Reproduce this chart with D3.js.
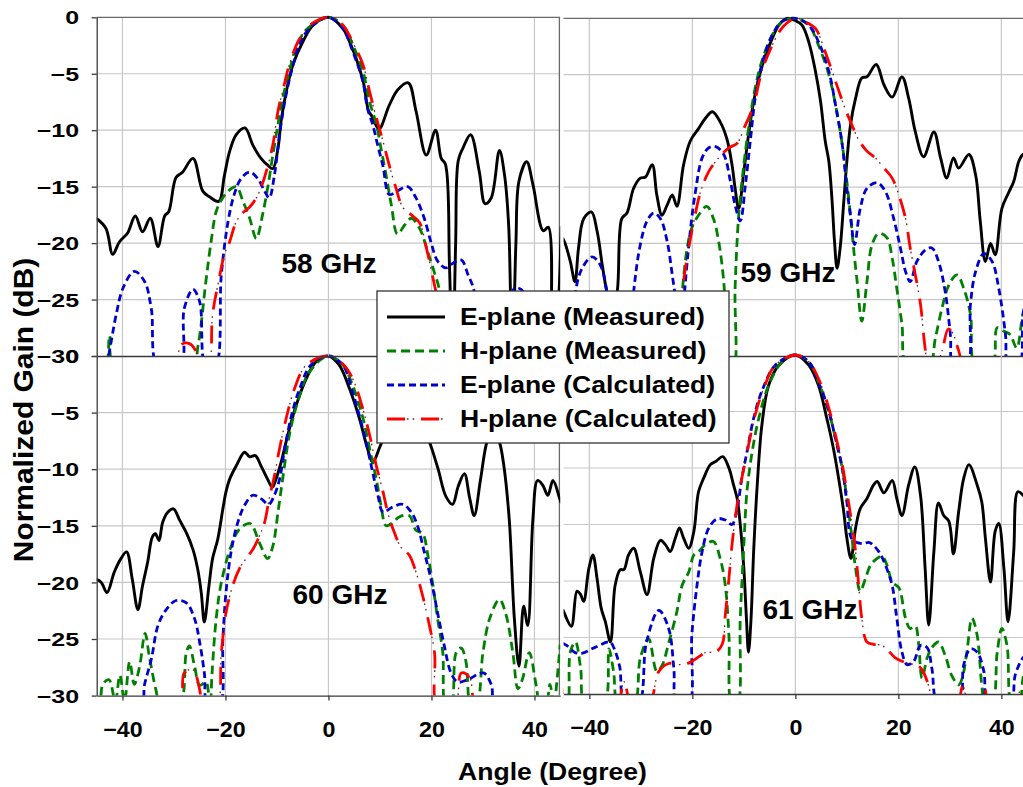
<!DOCTYPE html>
<html>
<head>
<meta charset="utf-8">
<script src="https://cdn.jsdelivr.net/npm/d3@7"></script>
<style>
  body { margin: 0; background: #fff; }
  svg { display: block; }
  text { font-family: "Liberation Sans", Arial, sans-serif; font-weight: bold; fill: #000; }
</style>
</head>
<body>
<svg id="chart" width="1023" height="787"></svg>
<script>
// ejes
const angleTicks = [-40, -20, 0, 20, 40];
const gainTicks = [0, -5, -10, -15, -20, -25, -30];
const seriesNames = ['E-plane (Measured)', 'H-plane (Measured)', 'E-plane (Calculated)', 'H-plane (Calculated)'];
const panelLabels = ['58 GHz', '59 GHz', '60 GHz', '61 GHz'];

// 58 GHz  [angle, dB]
const eMeas58 = [[-45.1,-17.8],[-43.2,-18.7],[-41.9,-21.0],[-40.6,-19.9],[-39.0,-19.1],[-37.5,-17.6],[-36.1,-19.0],[-34.6,-17.8],[-33.1,-20.3],[-31.8,-17.6],[-31.0,-17.2],[-29.6,-14.2],[-28.3,-13.7],[-26.3,-12.5],[-24.4,-15.4],[-23.1,-15.9],[-21.3,-16.3],[-20.2,-14.0],[-19.2,-11.9],[-17.9,-10.4],[-16.2,-9.8],[-14.7,-11.3],[-13.1,-12.5],[-11.8,-13.1],[-10.8,-13.4],[-9.8,-11.6],[-9.2,-9.2],[-8.2,-6.6],[-6.9,-4.2],[-5.0,-2.2],[-3.0,-0.7],[0,0],[2.8,-1.0],[4.5,-2.6],[5.5,-3.8],[6.8,-5.8],[7.8,-8.3],[8.5,-8.8],[9.8,-9.9],[11.8,-7.8],[13.5,-6.4],[15.5,-5.8],[17.0,-8.3],[19.0,-12.2],[20.8,-10.0],[21.9,-12.5],[22.7,-13.0],[23.5,-22],[24.1,-31],[24.7,-20],[25.2,-12.7],[26.1,-11.6],[27.6,-10.4],[29.3,-13.7],[30.4,-16.5],[31.6,-16.0],[33.2,-11.8],[34.2,-14.0],[35.0,-18.5],[35.7,-31],[36.4,-20],[37.0,-14.5],[38.5,-12.8],[39.7,-14.8],[41.7,-18.9],[42.7,-18.6],[43.3,-31],[44.3,-28],[45.2,-18.5]];
const hMeas58 = [[-45,-31],[-43.3,-31],[-42.5,-28.2],[-41.5,-31],[-26.5,-31],[-25.3,-29],[-23.8,-23.4],[-22.8,-19.9],[-21.8,-17.2],[-20.8,-16.2],[-19.5,-15.4],[-17.9,-15.0],[-16.6,-16.3],[-15.3,-17.8],[-14.0,-19.6],[-12.8,-17.5],[-11.8,-15.1],[-10.8,-12.2],[-9.8,-9.5],[-8.9,-7.2],[-7.6,-4.8],[-6.3,-2.7],[-4.3,-1.1],[0,0],[2.8,-0.7],[4.7,-2.4],[6.7,-4.8],[8.0,-7.5],[9.3,-9.5],[10.2,-11.6],[11.2,-14.0],[12.2,-16.6],[13.4,-19.2],[14.8,-18.4],[16.1,-17.8],[17.7,-18.7],[19.3,-20.8],[20.5,-22.5],[21.6,-24.3],[22.5,-31],[45,-31]];
const eCalc58 = [[-45,-31],[-43.2,-31],[-42.5,-29.5],[-41.2,-26.3],[-39.9,-24.0],[-37.7,-22.5],[-35.7,-23.4],[-34.4,-25.8],[-33.1,-31],[-28.8,-31],[-28.0,-25.8],[-26.3,-24.1],[-25.0,-25.2],[-23.8,-31],[-22.0,-31],[-20.8,-22.8],[-19.5,-18.1],[-18.3,-15.7],[-17.0,-14.3],[-15.3,-13.7],[-13.7,-14.3],[-12.4,-15.4],[-11.5,-16.0],[-10.5,-14.0],[-9.5,-10.4],[-8.5,-7.5],[-7.2,-4.8],[-5.6,-2.4],[-3.7,-1.0],[0,0],[2.8,-1.0],[4.7,-3.0],[6.7,-5.7],[7.6,-8.1],[8.6,-9.5],[9.6,-11.4],[10.6,-13.2],[11.8,-15.7],[13.3,-15.4],[15.4,-15.0],[17.0,-16.0],[18.6,-17.8],[19.9,-19.9],[21.2,-21.6],[22.8,-22.2],[24.1,-21.8],[25.8,-21.5],[27.1,-22.8],[28.3,-24.3],[29.0,-31],[35.3,-31],[36.1,-24.0],[37.4,-24.1],[38.4,-24.9],[39.0,-31],[45,-31]];
const hCalc58 = [[-45,-31],[-30.2,-31],[-28.6,-29.0],[-27.0,-28.9],[-25.7,-29.6],[-25.0,-31],[-23.4,-31],[-22.5,-26.3],[-21.2,-23.1],[-20.2,-21.0],[-19.2,-19.9],[-17.9,-18.1],[-16.6,-17.3],[-15.3,-16.8],[-14.0,-16.0],[-13.1,-15.1],[-12.1,-13.7],[-10.8,-11.3],[-9.8,-8.3],[-8.9,-6.6],[-7.6,-4.2],[-5.6,-1.9],[-3.0,-0.5],[0,0],[2.8,-0.7],[4.7,-2.2],[6.7,-4.2],[8.0,-6.6],[9.3,-8.9],[10.6,-11.0],[11.8,-13.1],[13.1,-15.1],[14.4,-16.8],[16.1,-17.5],[17.7,-18.2],[19.0,-20.4],[20.3,-23.1],[21.2,-25.2],[22.2,-31],[45,-31]];

// 59 GHz
const eMeas59 = [[-45.2,-19.5],[-44.7,-20.0],[-43.7,-21.6],[-42.8,-23.4],[-42.1,-20.4],[-41.1,-17.8],[-39.6,-17.2],[-38.5,-18.9],[-37.5,-21.9],[-36.6,-24.3],[-35.6,-26],[-34.6,-24.3],[-33.7,-17.8],[-32.7,-17.3],[-31.4,-15.1],[-30.1,-14.2],[-29.1,-14.1],[-27.8,-13.0],[-26.9,-15.7],[-25.9,-17.5],[-24.9,-16.6],[-23.9,-15.7],[-23.0,-16.7],[-21.7,-13.0],[-20.4,-10.9],[-18.8,-9.8],[-17.5,-8.9],[-16.1,-8.3],[-14.6,-9.2],[-13.3,-10.7],[-12.3,-13.0],[-11.7,-15.1],[-11.0,-16.9],[-10.0,-13.6],[-9.1,-10.4],[-8.1,-7.4],[-7.1,-5.3],[-5.8,-3.3],[-4.5,-1.8],[-3.2,-0.6],[-1.6,0],[0,-0.2],[1.3,-0.6],[2.6,-2.1],[3.9,-4.7],[4.9,-7.4],[5.8,-10.9],[6.5,-12.7],[7.1,-16.0],[7.6,-19.8],[8.1,-22.2],[8.7,-20.4],[9.4,-16.3],[10.0,-12.7],[10.7,-9.5],[11.7,-7.1],[12.9,-5.3],[13.9,-5.2],[15.7,-4.1],[17.2,-5.9],[18.8,-7.0],[20.7,-5.2],[22.0,-7.1],[23.3,-10.1],[24.9,-12.3],[26.9,-10.1],[28.2,-12.4],[29.4,-14.2],[30.7,-12.4],[31.7,-13.3],[33.7,-12.1],[35.0,-13.9],[35.9,-18.0],[36.9,-21.6],[37.9,-20.0],[38.8,-21.0],[40.1,-16.9],[41.4,-15.5],[42.4,-14.5],[43.4,-12.7],[44.2,-12.1],[45.2,-12.0]];
const hMeas59 = [[-45,-31],[-23,-31],[-22.0,-24.5],[-21.0,-20.4],[-20.1,-18.6],[-18.8,-17.5],[-17.2,-16.7],[-15.9,-17.8],[-14.9,-19.8],[-13.9,-23.4],[-12.9,-31],[-12.0,-31],[-11.7,-24.0],[-11.0,-17.5],[-10.0,-13.0],[-9.1,-9.8],[-7.8,-6.2],[-6.5,-3.8],[-4.5,-1.5],[-2.6,-0.3],[0,0],[2.6,-0.6],[4.5,-2.4],[6.5,-5.0],[7.8,-7.7],[9.1,-11.2],[10.0,-14.5],[10.7,-17.5],[11.3,-20.4],[12.0,-23.4],[12.9,-26.9],[13.9,-23.4],[14.9,-20.1],[16.2,-19.1],[17.8,-19.5],[18.8,-21.3],[19.7,-24.0],[20.7,-27.2],[21.7,-31],[25.9,-31],[27.2,-28.4],[28.5,-25.7],[29.8,-23.7],[31.4,-22.8],[32.7,-24.0],[34.0,-26.3],[35.0,-31],[38.2,-31],[39.2,-27.5],[40.5,-27.8],[41.7,-28.1],[43.0,-29.3],[44.2,-26.3],[45,-25.5]];
const eCalc59 = [[-45,-31],[-43.8,-31],[-42.7,-24.3],[-41.4,-22.2],[-39.5,-21.2],[-37.9,-21.9],[-36.6,-24.3],[-35.5,-31],[-32.5,-31],[-31.4,-24.3],[-30.1,-20.1],[-28.8,-18.0],[-27.5,-17.3],[-26.2,-17.8],[-24.9,-19.8],[-23.9,-22.8],[-23.0,-26],[-22.4,-31],[-21.8,-26],[-20.4,-18.9],[-19.4,-15.4],[-18.1,-12.4],[-16.8,-11.5],[-15.5,-11.4],[-13.9,-12.1],[-12.6,-14.5],[-11.7,-16.6],[-10.7,-18.0],[-9.7,-14.8],[-8.7,-10.7],[-7.8,-7.1],[-6.5,-4.1],[-4.5,-1.5],[-2.6,-0.3],[0,0],[2.6,-0.6],[4.5,-2.1],[6.5,-4.7],[7.8,-7.7],[9.1,-11.2],[10.0,-15.1],[10.7,-17.5],[11.5,-20.1],[12.6,-16.9],[13.9,-15.1],[15.9,-14.6],[17.5,-15.4],[19.1,-17.8],[20.4,-20.4],[21.4,-22.5],[22.3,-23.4],[23.6,-21.6],[25.2,-20.6],[26.5,-20.4],[27.8,-21.6],[29.1,-24.3],[30.1,-28.1],[30.7,-31],[33.3,-31],[34.0,-25.4],[35.0,-22.5],[36.6,-20.9],[38.2,-21.6],[39.5,-24.0],[40.8,-28.1],[41.4,-31],[43.4,-31],[44.2,-26.3],[45,-24.5]];
const hCalc59 = [[-45,-31],[-23.0,-31],[-21.7,-23.4],[-20.7,-20.4],[-19.7,-18.0],[-18.4,-15.4],[-16.8,-13.6],[-14.9,-12.4],[-12.9,-11.5],[-11.3,-11.1],[-10.0,-9.8],[-8.1,-7.7],[-6.5,-4.7],[-4.5,-2.4],[-2.3,-0.7],[0,0],[1.9,-0.3],[3.9,-0.9],[5.8,-3.0],[7.8,-5.6],[9.4,-7.7],[11.0,-9.5],[12.3,-10.8],[13.9,-11.8],[15.5,-12.4],[17.2,-13.3],[18.8,-14.2],[20.1,-15.7],[21.4,-17.8],[22.3,-20.4],[23.3,-22.8],[24.3,-25.4],[25.2,-29.3],[25.9,-31],[27.2,-31],[28.5,-29.5],[29.7,-27.6],[30.6,-28.0],[31.7,-29.5],[33.0,-31],[45,-31]];

// 60 GHz
const eMeas60 = [[-45.1,-19.7],[-44.1,-20.0],[-43.0,-20.9],[-41.6,-19.1],[-40.3,-17.9],[-39.2,-17.3],[-38.1,-19.7],[-37.0,-22.4],[-36.1,-20.3],[-35.1,-18.2],[-34.2,-16.0],[-33.6,-15.7],[-32.9,-16.3],[-32.2,-14.7],[-31.2,-13.8],[-30.1,-13.5],[-28.9,-14.5],[-27.6,-15.6],[-26.3,-17.1],[-25.4,-18.8],[-24.7,-20.9],[-24.1,-23.5],[-23.2,-20.3],[-22.5,-17.9],[-21.5,-16.2],[-20.5,-13.5],[-19.9,-12.0],[-19.2,-10.9],[-17.9,-9.7],[-16.3,-8.5],[-15.3,-8.9],[-14.2,-8.8],[-13.1,-9.7],[-11.8,-10.9],[-10.9,-11.6],[-10.2,-10.9],[-9.2,-9.4],[-7.9,-7.0],[-6.3,-4.4],[-4.3,-2.0],[-2.4,-0.5],[0,0],[2.1,-0.8],[4.1,-2.9],[6.0,-5.5],[7.6,-8.2],[8.6,-9.4],[10,-8],[12,-6],[15,-5],[18,-6],[19.7,-7.7],[21.3,-10],[22.8,-12.4],[24.1,-13.1],[25.2,-11.5],[26.4,-10.4],[27.4,-12.5],[28.3,-14.1],[29.5,-11],[30.6,-7.9],[31.8,-6.2],[33.2,-7.6],[34.0,-9.5],[35.1,-14.4],[36.1,-23.2],[37.0,-27.4],[37.9,-22.1],[38.7,-23.8],[39.7,-14.4],[40.6,-11.0],[41.6,-11.4],[42.6,-12.3],[43.6,-11.0],[44.9,-12.6],[45.2,-13]];
const hMeas60 = [[-45,-31],[-44.5,-31],[-43.8,-29.0],[-42.6,-28.6],[-41.4,-30.5],[-40.5,-28.2],[-39.6,-30.5],[-38.6,-27.0],[-37.7,-29.0],[-36.7,-27.5],[-35.6,-24.5],[-34.8,-26.5],[-33.5,-29.5],[-32.5,-31],[-29.0,-31],[-27.6,-26.2],[-27.0,-25.6],[-26.0,-27.4],[-25.0,-29.1],[-23.8,-28.8],[-23.0,-31],[-22.6,-28],[-21.8,-23.2],[-20.8,-20.0],[-18.9,-16.8],[-17.3,-15.3],[-15.2,-14.8],[-13.4,-16.5],[-11.8,-17.9],[-10.8,-16.8],[-9.8,-13.8],[-8.9,-10.9],[-7.6,-7.0],[-6.0,-4.1],[-3.7,-1.4],[0,0],[2.8,-0.8],[4.7,-2.6],[6.7,-5.5],[8.0,-8.2],[9.3,-10.9],[10.2,-13.2],[11.2,-15.0],[12.5,-14.7],[13.8,-14.2],[15.7,-14.1],[17.0,-15.4],[18.3,-15.7],[19.3,-17.6],[20.3,-20.3],[21.2,-23.2],[22.2,-26.2],[22.8,-31],[23.8,-31],[24.8,-26.2],[25.8,-25.8],[26.7,-27.0],[27.7,-31],[28.7,-31],[30.0,-26.2],[31.3,-23.2],[33.2,-21.5],[34.5,-22.9],[35.8,-26.2],[36.8,-29.4],[37.7,-28.5],[39.0,-26.2],[40.3,-29.0],[41.2,-31],[42.2,-31],[43.0,-29],[43.8,-31],[44.3,-29],[45,-25.5]];
const eCalc60 = [[-45,-31],[-36.5,-31],[-35.7,-29],[-34.4,-26.8],[-33.1,-23.8],[-31.5,-22.4],[-29.6,-21.6],[-27.6,-21.8],[-26.0,-23.2],[-25.0,-25.3],[-24.1,-28.0],[-23.4,-31],[-21.2,-31],[-20.5,-25.0],[-19.9,-20.9],[-18.9,-17.3],[-17.6,-14.7],[-16.3,-13.2],[-14.7,-12.3],[-13.1,-12.6],[-11.6,-13.1],[-10.5,-12.3],[-9.5,-10.9],[-8.5,-8.2],[-7.2,-5.3],[-5.6,-2.9],[-3.4,-0.8],[0,0],[2.8,-0.8],[4.7,-3.2],[6.3,-5.8],[7.6,-8.2],[8.6,-10.3],[9.6,-12.3],[10.6,-13.8],[12.2,-13.4],[14.4,-13.1],[16.1,-13.8],[17.3,-15.0],[18.6,-17.3],[19.9,-19.7],[21.2,-22.7],[22.5,-25.6],[23.8,-28.0],[25.1,-28.8],[27.0,-28.6],[30.1,-28.0],[31.6,-29.0],[32.6,-31],[45,-31]];
const hCalc60 = [[-45,-31],[-29.2,-31],[-28.0,-28.0],[-26.3,-27.7],[-25.0,-29.5],[-24.4,-31],[-21.8,-31],[-20.8,-26.2],[-19.9,-22.7],[-18.6,-20.3],[-17.3,-18.8],[-16.0,-17.9],[-14.7,-17.1],[-13.4,-15.9],[-12.4,-14.7],[-11.5,-12.6],[-10.5,-10.6],[-9.5,-8.2],[-8.2,-5.5],[-6.6,-2.9],[-4.3,-0.8],[0,0],[2.8,-0.7],[4.7,-2.0],[6.7,-4.7],[8.0,-7.0],[9.3,-9.7],[10.6,-12.0],[11.5,-13.8],[12.8,-15.6],[14.1,-16.9],[15.7,-17.6],[17.0,-19.1],[18.3,-21.2],[19.6,-23.8],[20.6,-26.2],[21.2,-31],[24.5,-31],[25.8,-28.0],[27.4,-28.4],[29.0,-31],[45,-31]];

// 61 GHz
const eMeas61 = [[-45.2,-22.5],[-45.0,-22.7],[-43.5,-24.0],[-42.4,-20.9],[-41.7,-21.2],[-41.1,-21.8],[-40.1,-18.9],[-39.3,-17.7],[-38.5,-19.8],[-37.7,-22.4],[-36.9,-23.6],[-35.9,-25.4],[-35.0,-20.4],[-34.0,-19.0],[-33.3,-19.0],[-32.4,-17.7],[-31.4,-17.1],[-30.1,-19.2],[-28.8,-21.2],[-27.5,-18.0],[-26.2,-16.4],[-25.2,-16.8],[-24.3,-17.4],[-23.3,-16.2],[-22.5,-15.3],[-21.7,-16.2],[-20.7,-17.1],[-19.7,-15.6],[-18.8,-12.1],[-17.8,-10.9],[-16.5,-9.7],[-15.4,-9.4],[-14.1,-9.0],[-12.9,-10.0],[-12.0,-11.5],[-11.3,-12.7],[-10.7,-15.0],[-10.0,-18.9],[-9.5,-23.3],[-9.1,-26.3],[-8.6,-23.3],[-8.1,-17.4],[-7.4,-11.5],[-6.5,-6.2],[-5.2,-2.7],[-3.2,-0.9],[0,0],[2.6,-0.9],[4.5,-2.7],[6.1,-5.6],[7.4,-8.3],[8.4,-10.9],[9.4,-13.9],[10.0,-16.2],[10.8,-18.0],[11.7,-15.3],[12.6,-13.6],[13.9,-12.7],[15.2,-11.5],[15.9,-11.2],[17.2,-12.2],[18.8,-11.1],[19.7,-12.7],[20.7,-14.2],[22.0,-11.5],[23.2,-9.9],[24.3,-12.4],[25.2,-18.9],[25.9,-23.9],[26.9,-17.4],[27.8,-13.1],[28.8,-14.2],[29.8,-14.7],[30.7,-17.6],[31.7,-13.9],[32.7,-10.9],[33.7,-9.7],[35.3,-11.5],[36.2,-13.0],[36.9,-16.2],[37.9,-20.1],[38.8,-15.6],[39.5,-14.9],[40.5,-18.9],[41.3,-23.6],[42.4,-17.4],[43.2,-12.1],[44.2,-12.4],[45.2,-13]];
const hMeas61 = [[-45,-31],[-44.3,-31],[-43.7,-26.3],[-42.7,-25.4],[-41.7,-27.7],[-40.8,-31],[-37.2,-31],[-36.2,-26.0],[-35.3,-28.0],[-34.3,-31],[-31.4,-31],[-30.1,-26.8],[-28.5,-25.1],[-26.9,-28.0],[-25.9,-27.5],[-24.6,-25.5],[-23.0,-22.7],[-22.0,-20.4],[-20.7,-19.2],[-19.7,-17.7],[-18.8,-17.4],[-17.5,-16.8],[-15.9,-16.5],[-14.6,-18.0],[-13.6,-20.4],[-12.9,-24.8],[-12.3,-31],[-11.3,-31],[-10.7,-23.3],[-10.0,-16.8],[-9.4,-12.1],[-8.4,-8.6],[-7.1,-5.6],[-5.2,-2.7],[-2.6,-0.6],[0,0],[2.6,-0.6],[4.5,-2.4],[6.5,-5.0],[7.8,-7.4],[9.1,-10.0],[10.0,-12.7],[11.0,-16.2],[11.7,-18.9],[12.6,-20.9],[13.6,-19.8],[14.6,-18.6],[15.9,-18.0],[16.8,-17.8],[17.8,-18.6],[18.8,-20.1],[20.1,-20.6],[21.4,-23.3],[22.3,-24.2],[23.3,-24.0],[23.9,-25.4],[24.6,-28.6],[25.6,-26.8],[26.5,-25.9],[27.8,-25.4],[29.1,-26.6],[30.4,-28.4],[31.7,-29.2],[32.4,-28.6],[33.3,-26.3],[34.3,-23.3],[35.3,-24.8],[36.2,-29.2],[36.9,-31],[38.2,-31],[39.2,-26.3],[40.1,-24.2],[41.1,-25.7],[42.1,-31],[43.4,-31],[44.2,-28.6],[45,-27]];
const eCalc61 = [[-45.2,-25.5],[-44.4,-25.7],[-42.9,-26.3],[-41.5,-26.4],[-39.0,-25.9],[-36.0,-25.4],[-35.0,-26.2],[-34.1,-27.6],[-33.1,-31],[-30.5,-31],[-28.9,-25.4],[-26.5,-22.6],[-24.6,-24.2],[-23.6,-27.7],[-23.0,-31],[-20.7,-31],[-20.1,-24.8],[-19.1,-20.4],[-18.1,-17.4],[-16.8,-15.3],[-15.2,-14.5],[-13.6,-14.6],[-12.3,-15.0],[-11.3,-13.6],[-10.4,-10.9],[-9.4,-8.6],[-8.1,-5.6],[-6.5,-3.2],[-3.9,-0.9],[0,0],[2.6,-0.6],[4.5,-2.4],[6.5,-5.0],[7.8,-7.4],[9.1,-10.0],[10.0,-13.0],[11.0,-16.3],[12.9,-16.7],[14.4,-16.6],[16.2,-17.4],[17.5,-18.6],[18.8,-20.4],[19.7,-23.3],[20.7,-26.3],[21.7,-27.4],[23.0,-27.1],[24.3,-25.7],[25.6,-25.9],[26.5,-27.7],[27.8,-31],[31.7,-31],[32.7,-27.4],[34.0,-26.0],[35.3,-26.3],[36.6,-28.0],[37.5,-31],[41.7,-31],[42.7,-28.3],[44.2,-26.8],[45,-26.5]];
const hCalc61 = [[-45.3,-29.5],[-44.3,-31],[-34.8,-31],[-33.3,-28.9],[-31.7,-31],[-28.5,-31],[-26.5,-28.0],[-24.6,-27.3],[-22.4,-27.4],[-20.4,-27.2],[-18.1,-26.5],[-17.2,-26.3],[-15.5,-26.3],[-14.2,-25.6],[-13.6,-23.0],[-12.9,-19.8],[-12.3,-16.8],[-11.7,-14.5],[-11.0,-12.4],[-10.0,-10.0],[-9.1,-8.0],[-7.8,-5.3],[-6.1,-2.9],[-3.9,-0.9],[0,0],[2.6,-0.6],[4.5,-2.1],[6.5,-4.7],[7.8,-7.1],[9.1,-9.7],[10.0,-12.1],[11.0,-15.0],[11.7,-17.4],[12.3,-20.4],[12.9,-23.3],[13.9,-25.4],[15.2,-25.6],[16.8,-25.7],[18.1,-26.2],[19.4,-26.8],[20.7,-27.1],[22.3,-27.3],[23.9,-27.5],[24.9,-28.1],[25.9,-29.3],[26.9,-31],[31.3,-31],[32.5,-29.3],[33.8,-31],[36.0,-31],[36.8,-29.6],[37.7,-31],[42.2,-31],[43.8,-29.7],[45,-30.2]];

// Estilo de cada serie (mismo orden que seriesNames)
const seriesStyles = [
    { color: '#000000', dash: null, width: 2.9 },
    { color: '#008000', dash: '9,5', width: 2.8 },
    { color: '#0000cc', dash: '7,4', width: 2.8 },
    { color: '#ff0000', dash: '18,16', width: 2.8, dots: '0,20,1.6,4,1.6,6.8' }
];

const panelW = 463.5;
const panels = [
    { key: 'p59', label: panelLabels[1], data: [eMeas59, hMeas59, eCalc59, hCalc59], x0: 563.6, y0: 18.3, y1: 356, lx: 788, ly: 281.7, top: true, left: false, bottom: false },
    { key: 'p61', label: panelLabels[3], data: [eMeas61, hMeas61, eCalc61, hCalc61], x0: 563.6, y0: 355, y1: 694, lx: 810, ly: 618.7, top: false, left: false, bottom: true },
    { key: 'p60', label: panelLabels[2], data: [eMeas60, hMeas60, eCalc60, hCalc60], x0: 96.7, y0: 356, y1: 695.6, lx: 340, ly: 603.7, top: false, left: true, bottom: true },
    { key: 'p58', label: panelLabels[0], data: [eMeas58, hMeas58, eCalc58, hCalc58], x0: 96.7, y0: 17.3, y1: 356, lx: 329, ly: 273.3, top: true, left: true, bottom: false }
];

const svg = d3.select('#chart');
const defs = svg.append('defs');

function drawPanel(p) {
    const x = d3.scaleLinear().domain([-45, 45]).range([p.x0, p.x0 + panelW]);
    const y = d3.scaleLinear().domain([-30, 0]).range([p.y1, p.y0]);
    const g = svg.append('g');

    defs.append('clipPath').attr('id', 'clip-' + p.key)
        .append('rect')
        .attr('x', p.x0).attr('y', p.y0 - 2)
        .attr('width', panelW).attr('height', p.y1 - p.y0 + 2);

    // rejilla
    g.append('g').selectAll('line').data(angleTicks).join('line')
        .attr('x1', d => x(d)).attr('x2', d => x(d))
        .attr('y1', p.y0).attr('y2', p.y1)
        .attr('stroke', '#c8c8c8').attr('stroke-width', 1.2);
    g.append('g').selectAll('line').data(gainTicks.slice(1, -1)).join('line')
        .attr('x1', p.x0).attr('x2', p.x0 + panelW)
        .attr('y1', d => y(d)).attr('y2', d => y(d))
        .attr('stroke', '#c8c8c8').attr('stroke-width', 1.2);

    // bordes
    if (p.top) {
        g.append('line').attr('x1', p.x0).attr('x2', p.x0 + panelW)
            .attr('y1', y(0)).attr('y2', y(0))
            .attr('stroke', '#6a6a6a').attr('stroke-width', 1.3);
    }
    g.append('line').attr('x1', p.x0 + panelW - 0.8).attr('x2', p.x0 + panelW - 0.8)
        .attr('y1', p.y0).attr('y2', p.y1)
        .attr('stroke', '#6a6a6a').attr('stroke-width', 1.3);

    // series
    const line = d3.line()
        .x(d => x(d[0]))
        .y(d => y(d[1]))
        .curve(d3.curveCatmullRom.alpha(0.5));
    const lines = g.append('g').attr('clip-path', `url(#clip-${p.key})`);
    p.data.forEach((s, i) => {
        const st = seriesStyles[i];
        lines.append('path').datum(s)
            .attr('d', line)
            .attr('fill', 'none')
            .attr('stroke', st.color)
            .attr('stroke-width', st.width)
            .attr('stroke-linejoin', 'round')
            .attr('stroke-dasharray', st.dash);
        if (st.dots) {
            lines.append('path').datum(s)
                .attr('d', line)
                .attr('fill', 'none')
                .attr('stroke', '#7a1a1a')
                .attr('stroke-width', 1.3)
                .attr('stroke-dasharray', st.dots);
        }
    });

    // ejes
    const xAxis = g.append('g')
        .attr('transform', `translate(0,${p.y1})`)
        .call(d3.axisBottom(x).tickValues(angleTicks).tickSize(p.bottom ? 5 : 0).tickSizeOuter(0).tickFormat(d3.format('d')));
    xAxis.select('.domain').attr('stroke', '#3a3a3a').attr('stroke-width', 1.3);
    xAxis.selectAll('.tick line').attr('stroke', '#3a3a3a').attr('stroke-width', 1.3);
    if (p.bottom) {
        xAxis.selectAll('.tick text')
            .attr('y', 0).attr('dy', 0)
            .attr('transform', 'translate(0,41.3) scale(1.08,1)')
            .style('font-size', '21.5px')
            .style('font-family', '"Liberation Sans", Arial, sans-serif')
            .style('font-weight', 'bold')
            .attr('fill', '#000');
    } else {
        xAxis.selectAll('.tick text').remove();
    }

    if (p.left) {
        const yAxis = g.append('g')
            .attr('transform', `translate(${p.x0},0)`)
            .call(d3.axisLeft(y).tickValues(gainTicks).tickSize(5).tickSizeOuter(0).tickFormat(d3.format('d')));
        yAxis.select('.domain').attr('stroke', '#3a3a3a').attr('stroke-width', 1.3);
        yAxis.selectAll('.tick line').attr('stroke', '#3a3a3a').attr('stroke-width', 1.3);
        yAxis.selectAll('.tick text')
            .attr('x', -13.1).attr('dy', 0).attr('y', 6.6)
            .attr('transform', 'scale(1.35,1)')
            .style('font-size', '18.5px')
            .style('font-family', '"Liberation Sans", Arial, sans-serif')
            .style('font-weight', 'bold')
            .attr('fill', '#000');
    }

    // etiqueta de frecuencia
    g.append('text')
        .attr('x', p.lx).attr('y', p.ly)
        .attr('text-anchor', 'middle')
        .style('font-size', '28px')
        .text(p.label);
}

panels.forEach(drawPanel);

// títulos de ejes
svg.append('text')
    .attr('transform', 'translate(552.5,780) scale(1.14,1)')
    .attr('text-anchor', 'middle')
    .style('font-size', '23.3px')
    .text('Angle (Degree)');
svg.append('text')
    .attr('transform', 'translate(33,410) rotate(-90) scale(1.07,1)')
    .attr('text-anchor', 'middle')
    .style('font-size', '28px')
    .text('Normalized Gain (dB)');

// leyenda
const legend = svg.append('g');
legend.append('rect')
    .attr('x', 377).attr('y', 291).attr('width', 352).attr('height', 152)
    .attr('fill', '#fff').attr('stroke', '#333').attr('stroke-width', 1.3);
const legendRows = d3.scalePoint().domain(seriesNames).range([317, 419]);
seriesNames.forEach((name, i) => {
    const st = seriesStyles[i];
    const ly = legendRows(name);
    legend.append('line')
        .attr('x1', 387).attr('x2', 445).attr('y1', ly).attr('y2', ly)
        .attr('stroke', st.color).attr('stroke-width', st.width)
        .attr('stroke-dasharray', st.dash);
    if (st.dots) {
        legend.append('line')
            .attr('x1', 387).attr('x2', 445).attr('y1', ly).attr('y2', ly)
            .attr('stroke', '#7a1a1a').attr('stroke-width', 1.3)
            .attr('stroke-dasharray', st.dots);
    }
    legend.append('text')
        .attr('transform', `translate(460,${ly + 8.3}) scale(1.14,1)`)
        .style('font-size', '23.3px')
        .text(name);
});
</script>
</body>
</html>
